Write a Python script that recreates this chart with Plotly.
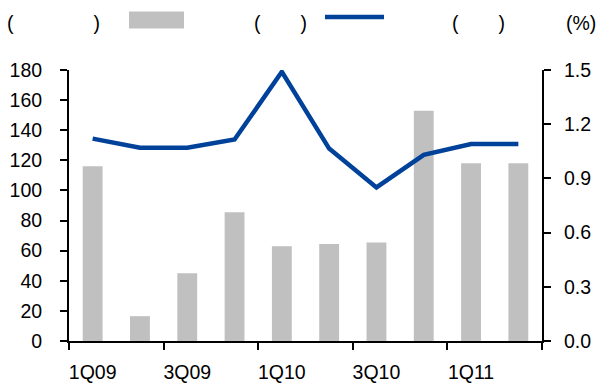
import plotly.graph_objects as go

categories = ["1Q09", "2Q09", "3Q09", "4Q09", "1Q10", "2Q10", "3Q10", "4Q10", "1Q11", "2Q11"]
bar_values = [116, 16.5, 45, 85.5, 63, 64.5, 65.5, 153, 118, 118]
line_values = [1.12, 1.07, 1.07, 1.115, 1.49, 1.065, 0.85, 1.03, 1.09, 1.09]
left_ticks = [0, 20, 40, 60, 80, 100, 120, 140, 160, 180]
right_ticks = [0.0, 0.3, 0.6, 0.9, 1.2, 1.5]
x_labels = categories[::2]

W, H = 599, 388
ML, MR, MT, MB = 69, 57, 70, 47
PW, PH = W - ML - MR, H - MT - MB

def px2x(px):
    return (px - ML) / PW

def px2y(py):
    return (H - MB - py) / PH

positions = list(range(len(categories)))
boundaries = [i - 0.5 for i in range(0, len(categories) + 1, 2)]

FONT = "Liberation Sans, Arial, sans-serif"
FS = 19.5

fig = go.Figure()
fig.add_bar(x=positions, y=bar_values, width=0.42,
            marker=dict(color="#c0c0c0", line_width=0), yaxis="y")
fig.add_scatter(x=positions, y=line_values, mode="lines",
                line=dict(color="#00419a", width=4.5), yaxis="y2")

fig.update_layout(
    width=W, height=H,
    margin=dict(l=ML, r=MR, t=MT, b=MB, pad=0, autoexpand=False),
    plot_bgcolor="white", paper_bgcolor="white",
    showlegend=False,
    font=dict(family=FONT, size=FS, color="black"),
    xaxis=dict(
        range=[-0.5, len(categories) - 0.5], automargin=False,
        tickmode="array", tickvals=positions[::2], ticktext=x_labels,
        ticks="", showline=True, linecolor="black", linewidth=2,
        showgrid=False, zeroline=False,
        ticklabelstandoff=13,
        minor=dict(tickmode="array", tickvals=boundaries, ticks="outside",
                   ticklen=7, tickwidth=2, tickcolor="black", showgrid=False),
    ),
    yaxis=dict(
        range=[0, 180], tickmode="array", tickvals=left_ticks, automargin=False,
        ticks="outside", ticklen=7, tickwidth=2, tickcolor="black",
        showline=True, linecolor="black", linewidth=2,
        showgrid=False, zeroline=False, ticklabelstandoff=14,
    ),
    yaxis2=dict(
        overlaying="y", side="right", automargin=False,
        range=[0, 1.5], tickmode="array", tickvals=right_ticks, tickformat=".1f",
        ticks="outside", ticklen=7, tickwidth=2, tickcolor="black",
        showline=True, linecolor="black", linewidth=2,
        showgrid=False, zeroline=False, ticklabelstandoff=9,
    ),
)

# legend / unit labels drawn at top
fig.add_annotation(text="(\u3000\u3000\u3000\u3000)", xref="paper", yref="paper",
                   x=px2x(5), y=px2y(23), xanchor="left", yanchor="middle",
                   showarrow=False, font=dict(size=FS))
fig.add_shape(type="rect", xref="paper", yref="paper",
              x0=px2x(129), x1=px2x(184), y0=px2y(28.6), y1=px2y(11.5),
              fillcolor="#c0c0c0", line_width=0)
fig.add_annotation(text="\u3000\u3000\u3000(\u3000\u3000)", xref="paper", yref="paper",
                   x=px2x(192), y=px2y(23), xanchor="left", yanchor="middle",
                   showarrow=False, font=dict(size=FS))
fig.add_shape(type="line", xref="paper", yref="paper",
              x0=px2x(325), x1=px2x(384), y0=px2y(17), y1=px2y(17),
              line=dict(color="#00419a", width=4.5))
fig.add_annotation(text="\u3000\u3000\u3000(\u3000\u3000)", xref="paper", yref="paper",
                   x=px2x(390), y=px2y(23), xanchor="left", yanchor="middle",
                   showarrow=False, font=dict(size=FS))
fig.add_annotation(text="(%)", xref="paper", yref="paper",
                   x=px2x(598), y=px2y(23), xanchor="right", yanchor="middle",
                   showarrow=False, font=dict(size=FS))

fig.write_html("out.html")
